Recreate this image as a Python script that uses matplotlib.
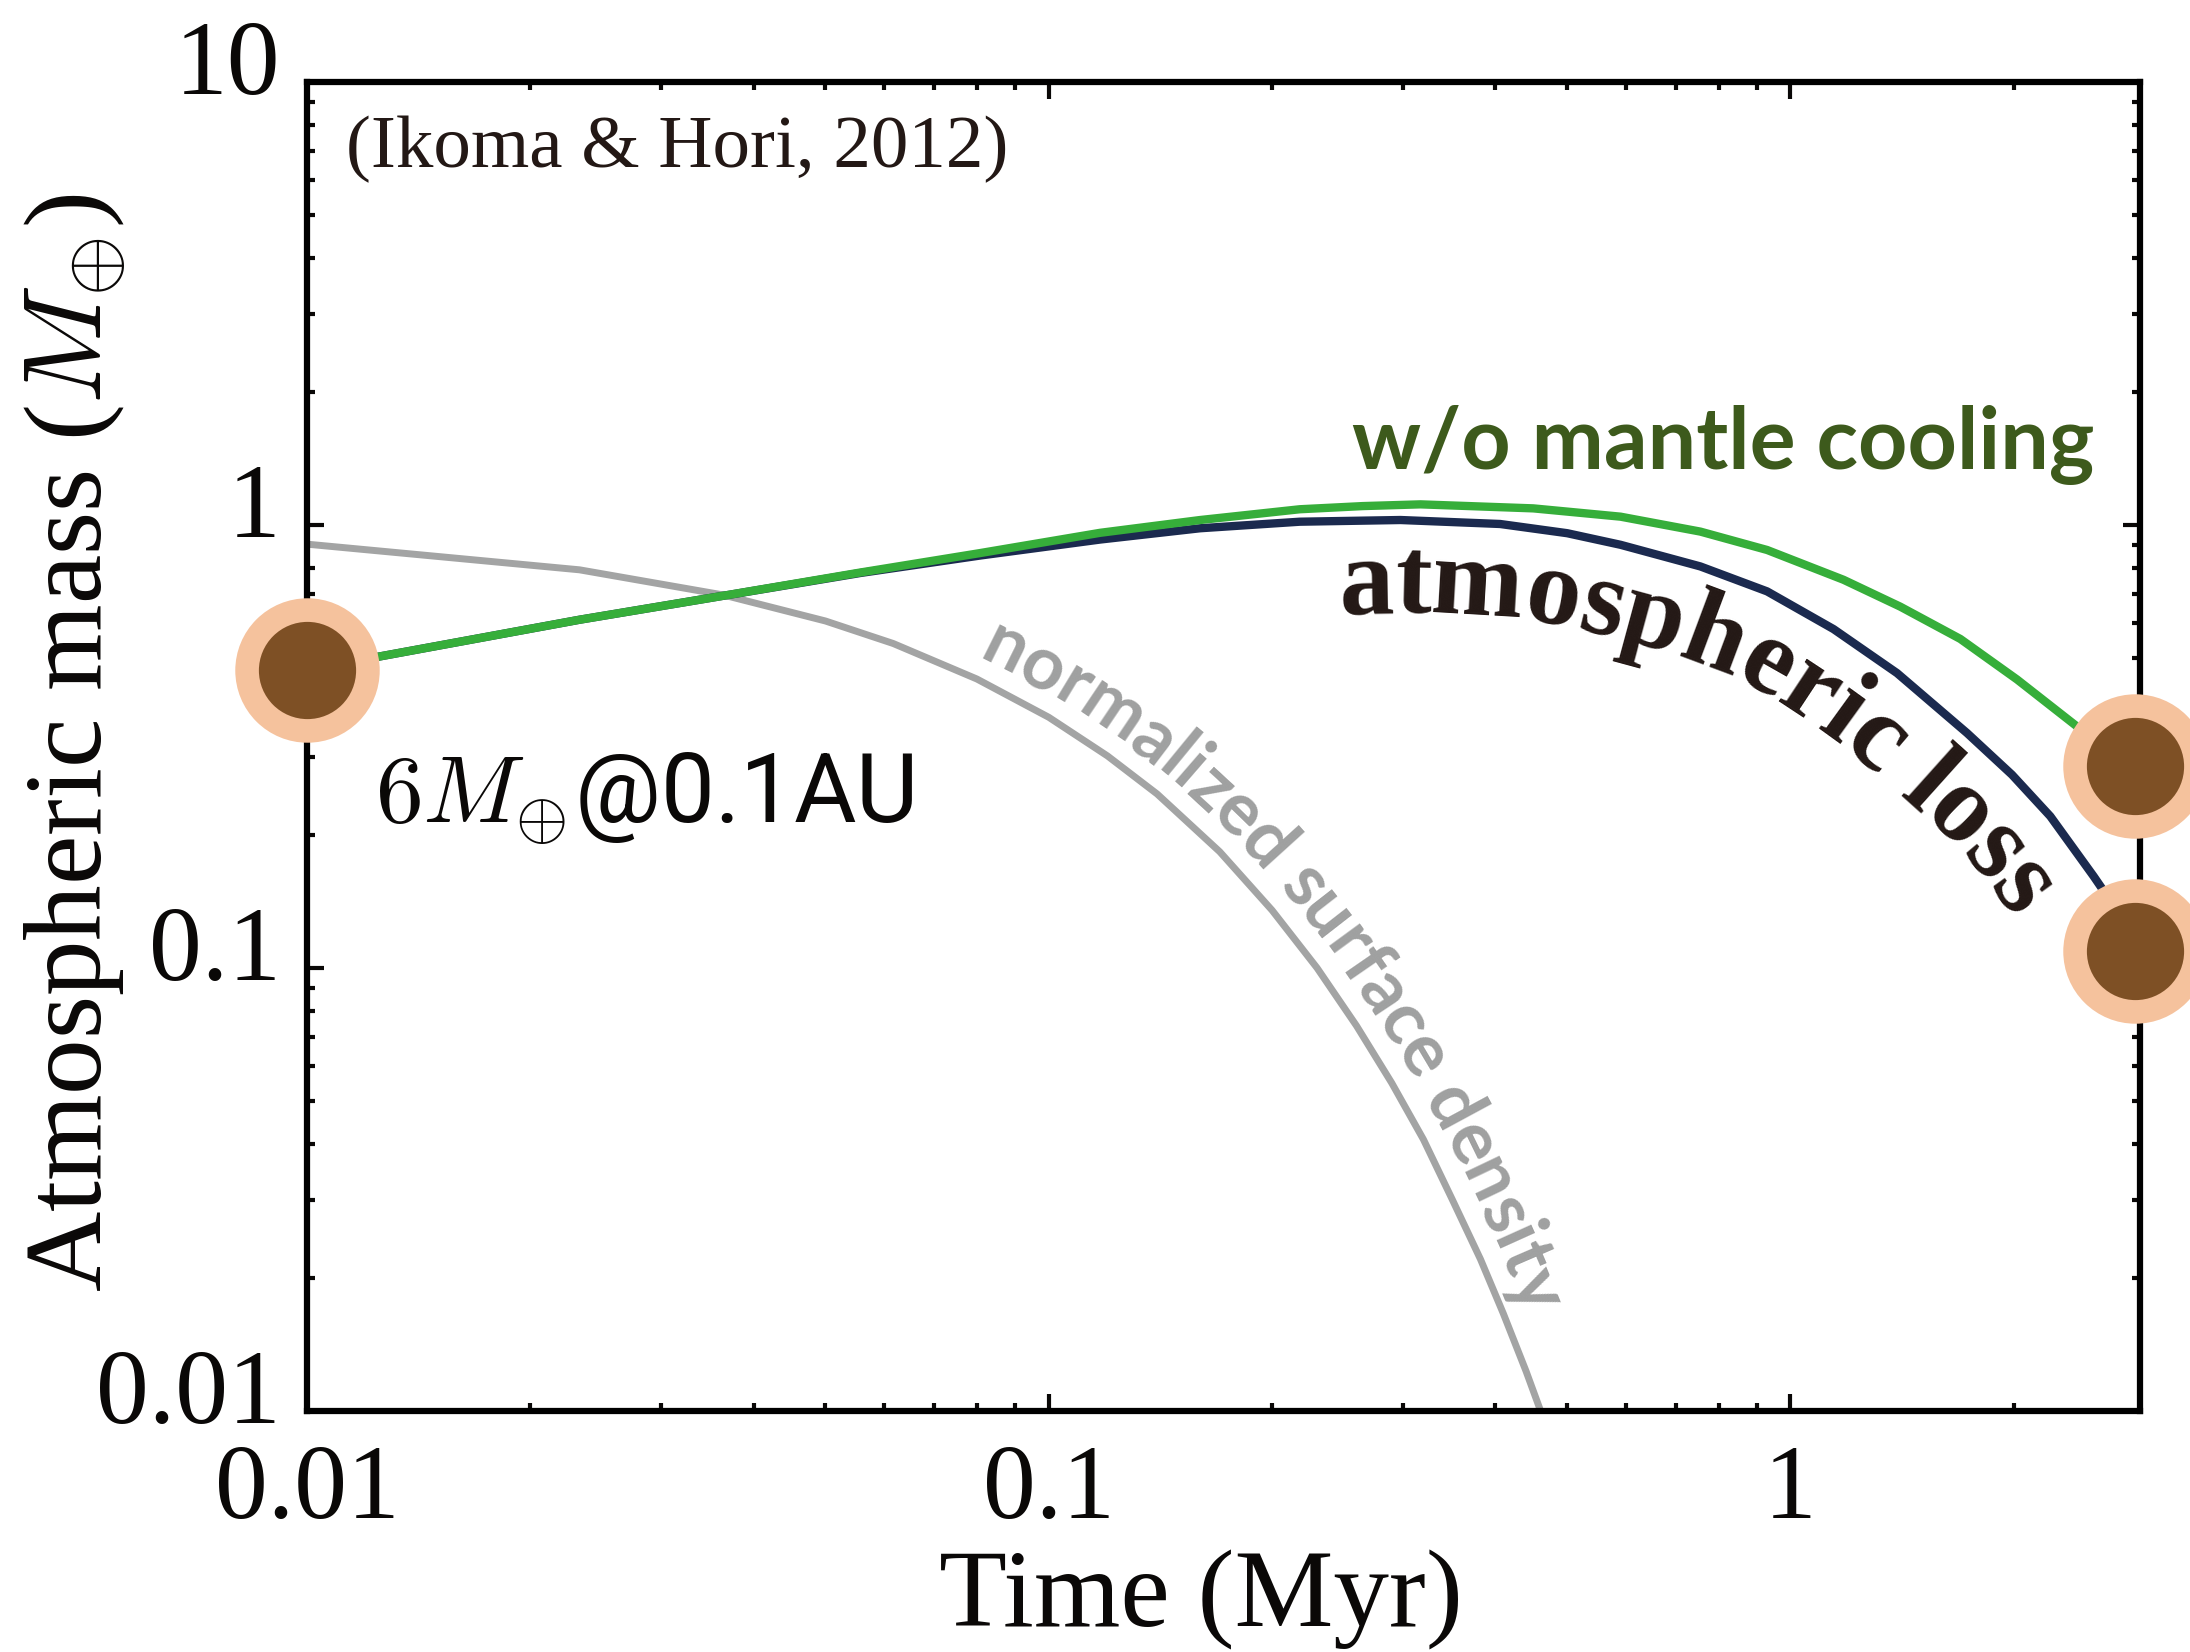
import numpy as np
import matplotlib
matplotlib.use('Agg')
import matplotlib.pyplot as plt
import matplotlib.ticker as ticker
import matplotlib.transforms as mtransforms
from matplotlib.font_manager import FontProperties, findfont

# values: time in Myr, atmospheric mass in Earth masses
t_green = [0.01, 0.0233, 0.0364, 0.0557, 0.0808, 0.1173, 0.160, 0.218, 0.265, 0.317, 0.450,
           0.590, 0.756, 0.930, 1.179, 1.406, 1.694, 2.020, 2.433, 2.91]
m_green = [0.471, 0.611, 0.692, 0.781, 0.864, 0.960, 1.026, 1.085, 1.103, 1.113, 1.090,
           1.044, 0.966, 0.878, 0.752, 0.654, 0.553, 0.448, 0.351, 0.285]

t_navy = [0.01, 0.0233, 0.0364, 0.0557, 0.0808, 0.1173, 0.160, 0.218, 0.298, 0.406, 0.500,
          0.590, 0.756, 0.930, 1.143, 1.392, 1.730, 1.989, 2.240, 2.563, 2.714, 2.91]
m_navy = [0.471, 0.611, 0.692, 0.779, 0.853, 0.927, 0.983, 1.017, 1.026, 1.005, 0.958,
          0.902, 0.806, 0.708, 0.582, 0.463, 0.339, 0.273, 0.220, 0.161, 0.140, 0.109]

t_gray = [0.01, 0.0233, 0.0364, 0.05, 0.0617, 0.08, 0.1, 0.12, 0.14, 0.17, 0.2, 0.23, 0.26,
          0.29, 0.32, 0.35, 0.382, 0.41, 0.44, 0.47]
sigma_gray = [0.905, 0.792, 0.695, 0.607, 0.54, 0.449, 0.368, 0.301, 0.247, 0.183, 0.135, 0.100,
              0.074, 0.055, 0.041, 0.030, 0.022, 0.0166, 0.0123, 0.0091]

t_start = [0.01]
m_start = [0.471]
t_end = [2.91, 2.91]
m_end = [0.285, 0.109]

x_ticks = [0.01, 0.1, 1]
x_tick_labels = ['0.01', '0.1', '1']
y_ticks = [0.01, 0.1, 1, 10]
y_tick_labels = ['0.01', '0.1', '1', '10']

plt.rcParams['font.family'] = ['Liberation Serif', 'DejaVu Serif']
plt.rcParams['mathtext.fontset'] = 'cm'

try:
    findfont('Liberation Sans Narrow', fallback_to_default=False)
    sans_narrow = 'Liberation Sans Narrow'
except ValueError:
    sans_narrow = 'Roboto'


def text_on_curve(ax, xs, ys, text, x_start, offset, family, weight, size, color):
    # lay single characters along a data curve, offset normal to it (pixels)
    renderer = ax.figure.canvas.get_renderer()
    prop = FontProperties(family=family, weight=weight, size=size)
    pts = ax.transData.transform(np.column_stack([xs, ys]))
    s = np.concatenate([[0], np.cumsum(np.hypot(*np.diff(pts, axis=0).T))])
    ss = np.arange(0, s[-1], 1.0)
    px = np.interp(ss, s, pts[:, 0])
    py = np.interp(ss, s, pts[:, 1])
    win = np.ones(61) / 61
    tx = np.convolve(np.gradient(px), win, mode='same')
    ty = np.convolve(np.gradient(py), win, mode='same')
    nrm = np.hypot(tx, ty)
    ox = px - offset * ty / nrm
    oy = py + offset * tx / nrm
    so = np.concatenate([[0], np.cumsum(np.hypot(np.diff(ox), np.diff(oy)))])
    x0 = ax.transData.transform((x_start, ys[0]))[0]
    s0 = so[np.searchsorted(px, x0)]
    bar = renderer.get_text_width_height_descent('|', prop, ismath=False)[0]
    adv = [0.0] + [renderer.get_text_width_height_descent(text[:k] + '|', prop, ismath=False)[0] - bar
                   for k in range(1, len(text) + 1)]
    for i, ch in enumerate(text):
        if ch == ' ':
            continue
        sc = s0 + 0.5 * (adv[i] + adv[i + 1])
        x = np.interp(sc, so, ox)
        y = np.interp(sc, so, oy)
        ang = np.degrees(np.arctan2(np.interp(sc, so, ty), np.interp(sc, so, tx)))
        ax.text(x, y, ch, transform=mtransforms.IdentityTransform(), rotation=ang,
                rotation_mode='anchor', ha='center', va='baseline', fontproperties=prop,
                color=color, clip_on=False, zorder=4)


fig = plt.figure(figsize=(21.9, 16.52), dpi=100)
ax = fig.add_axes([0.1402, 0.1459, 0.837, 0.8045])
ax.set_xscale('log')
ax.set_yscale('log')
ax.set_xlim(0.01, 2.96)
ax.set_ylim(0.01, 10)

ax.plot(t_gray, sigma_gray, color='#a3a4a4', lw=5, solid_capstyle='butt', zorder=2)
ax.plot(t_navy, m_navy, color='#1b2a4f', lw=6, zorder=3)
ax.plot(t_green, m_green, color='#36ae3a', lw=6, zorder=3)

for tt, mm in [(t_start, m_start), (t_end, m_end)]:
    ax.plot(tt, mm, 'o', ms=104, color='#f5c29d', mec='none', clip_on=False, zorder=6)
    ax.plot(tt, mm, 'o', ms=70, color='#7e5025', mec='none', clip_on=False, zorder=7)

for sp in ax.spines.values():
    sp.set_linewidth(4.5)
    sp.set_zorder(5)

ax.xaxis.set_major_locator(ticker.FixedLocator(x_ticks))
ax.xaxis.set_major_formatter(ticker.FixedFormatter(x_tick_labels))
ax.yaxis.set_major_locator(ticker.FixedLocator(y_ticks))
ax.yaxis.set_major_formatter(ticker.FixedFormatter(y_tick_labels))
ax.xaxis.set_minor_locator(ticker.LogLocator(subs=np.arange(2, 10)))
ax.yaxis.set_minor_locator(ticker.LogLocator(subs=np.arange(2, 10)))
ax.xaxis.set_minor_formatter(ticker.NullFormatter())
ax.yaxis.set_minor_formatter(ticker.NullFormatter())
ax.tick_params(which='both', direction='in', top=True, right=True, width=3, colors='#0a0807')
ax.tick_params(which='major', length=12.5, labelsize=76)
ax.tick_params(which='minor', length=6)
ax.tick_params(axis='x', which='major', pad=24)
ax.tick_params(axis='y', which='major', pad=19)

shift_up = mtransforms.ScaledTranslation(0, 0.25, fig.dpi_scale_trans)
for lab in ax.get_yticklabels():
    lab.set_transform(lab.get_transform() + shift_up)

fig.text(75 / 2190, 1 - 743 / 1652, r'Atmospheric mass ($M_{\oplus}$)', rotation=90,
         ha='center', va='center', fontsize=80, color='#0a0807')
fig.text(1201 / 2190, 25 / 1652, 'Time (Myr)', ha='center', va='baseline',
         fontsize=80, color='#0a0807')

ax.text(0.021, 0.936, '(Ikoma & Hori, 2012)', transform=ax.transAxes, fontsize=54,
        va='baseline', ha='left', color='#231815')
ax.text(0.037, 0.4425, r'$6M_{\oplus}$@0.1AU', transform=ax.transAxes, fontsize=69,
        family=sans_narrow, va='baseline', ha='left', color='#0a0807')
ax.text(0.975, 0.7085, 'w/o mantle cooling', transform=ax.transAxes, fontsize=62,
        family='Lato', fontweight='bold', va='baseline', ha='right', color='#3d5a1c')

text_on_curve(ax, t_gray, sigma_gray, 'normalized surface density', 0.078, 19,
              'Lato', 'bold', 53, '#9fa0a0')
text_on_curve(ax, t_navy, m_navy, 'atmospheric loss', 0.245, -92,
              'Liberation Serif', 'bold', 79, '#231815')

fig.savefig('out.png', dpi=100)
